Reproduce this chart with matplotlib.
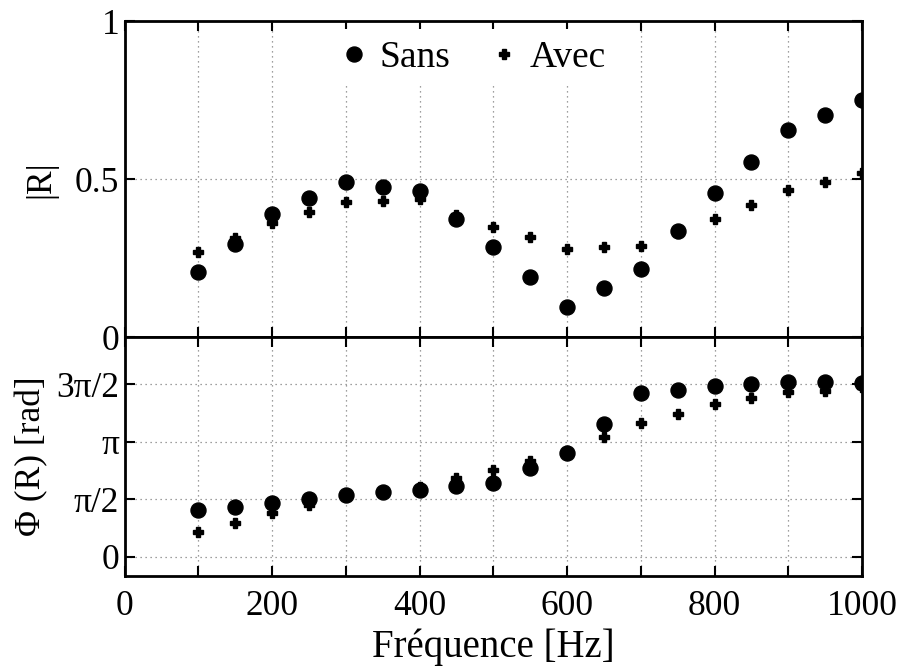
import numpy as np
import matplotlib
matplotlib.use("Agg")
import matplotlib.pyplot as plt
from matplotlib.ticker import MultipleLocator

plt.rcParams['font.family'] = ['Liberation Serif', 'DejaVu Serif']
plt.rcParams['font.size'] = 25.5

freq = [100, 150, 200, 250, 300, 350, 400, 450, 500, 550,
        600, 650, 700, 750, 800, 850, 900, 950, 1000]

# |R|
mod_sans = [0.205, 0.295, 0.388, 0.441, 0.491, 0.476, 0.463, 0.372, 0.284, 0.191,
            0.096, 0.156, 0.215, 0.335, 0.455, 0.555, 0.655, 0.703, 0.750]
mod_avec = [0.268, 0.312, 0.360, 0.395, 0.427, 0.430, 0.436, 0.386, 0.349, 0.315,
            0.280, 0.284, 0.288, 0.330, 0.373, 0.418, 0.465, 0.491, 0.518]

# phase [rad]
phi_sans = [1.27, 1.37, 1.48, 1.58, 1.69, 1.76, 1.82, 1.94, 2.02, 2.44,
            2.83, 3.63, 4.47, 4.56, 4.67, 4.72, 4.76, 4.76, 4.74]
phi_avec = [0.68, 0.93, 1.20, 1.41, 1.68, 1.76, 1.92, 2.14, 2.37, 2.63,
            2.88, 3.28, 3.65, 3.90, 4.18, 4.33, 4.49, 4.54, 4.63]

phi_ticks = [0, np.pi / 2, np.pi, 3 * np.pi / 2]
phi_labels = ['0', 'π/2', 'π', '3π/2']

fig = plt.figure(figsize=(9.04, 6.70), dpi=100)
ax1 = fig.add_axes([0.138, 0.497, 0.8155, 0.4715])
ax2 = fig.add_axes([0.138, 0.1403, 0.8155, 0.3567], sharex=ax1)

circ = dict(marker='o', color='k', linestyle='none', markersize=10.8)
plus = dict(marker='P', color='k', linestyle='none', markersize=7.2)

ax1.plot(freq, mod_sans, label='Sans', **circ)
ax1.plot(freq, mod_avec, label='Avec', **plus)
ax2.plot(freq, phi_sans, **circ)
ax2.plot(freq, phi_avec, **plus)

for ax in (ax1, ax2):
    ax.set_xlim(0, 1000)
    ax.xaxis.set_major_locator(MultipleLocator(100))
    ax.grid(True, linestyle=(0, (1, 3)), color='0.5', linewidth=0.9)
    ax.tick_params(direction='in', length=7, width=1.5, top=True, right=True)
    ax.tick_params(axis='x', pad=10)
    ax.tick_params(axis='y', pad=4)
    for s in ax.spines.values():
        s.set_linewidth(2)

ax1.set_ylim(0, 1)
ax1.set_yticks([0, 0.5, 1])
ax1.set_yticklabels(['0', '0.5', '1'])
ax1.tick_params(labelbottom=False)
ax1.set_ylabel('|R|')

ax2.set_ylim(-0.52, 6.0)
ax2.set_yticks(phi_ticks)
ax2.set_yticklabels(phi_labels)
ax2.set_xticks(range(0, 1001, 100))
ax2.set_xticklabels([str(v) if v % 200 == 0 else '' for v in range(0, 1001, 100)])
ax2.set_ylabel('Φ (R) [rad]')
ax2.set_xlabel('Fréquence [Hz]', fontsize=28)

ax1.yaxis.set_label_coords(-0.091, 0.5)
ax2.yaxis.set_label_coords(-0.104, 0.5)
ax2.xaxis.set_label_coords(0.5, -0.22)

leg = ax1.legend(loc='center', bbox_to_anchor=(0.4715, 0.885), ncol=2,
                 frameon=True, fancybox=False, framealpha=1, edgecolor='white',
                 handletextpad=0.27, columnspacing=1.04, borderpad=0.3,
                 handlelength=0.8, fontsize=27)
leg.get_frame().set_linewidth(0)

fig.savefig('out.png', dpi=100)
